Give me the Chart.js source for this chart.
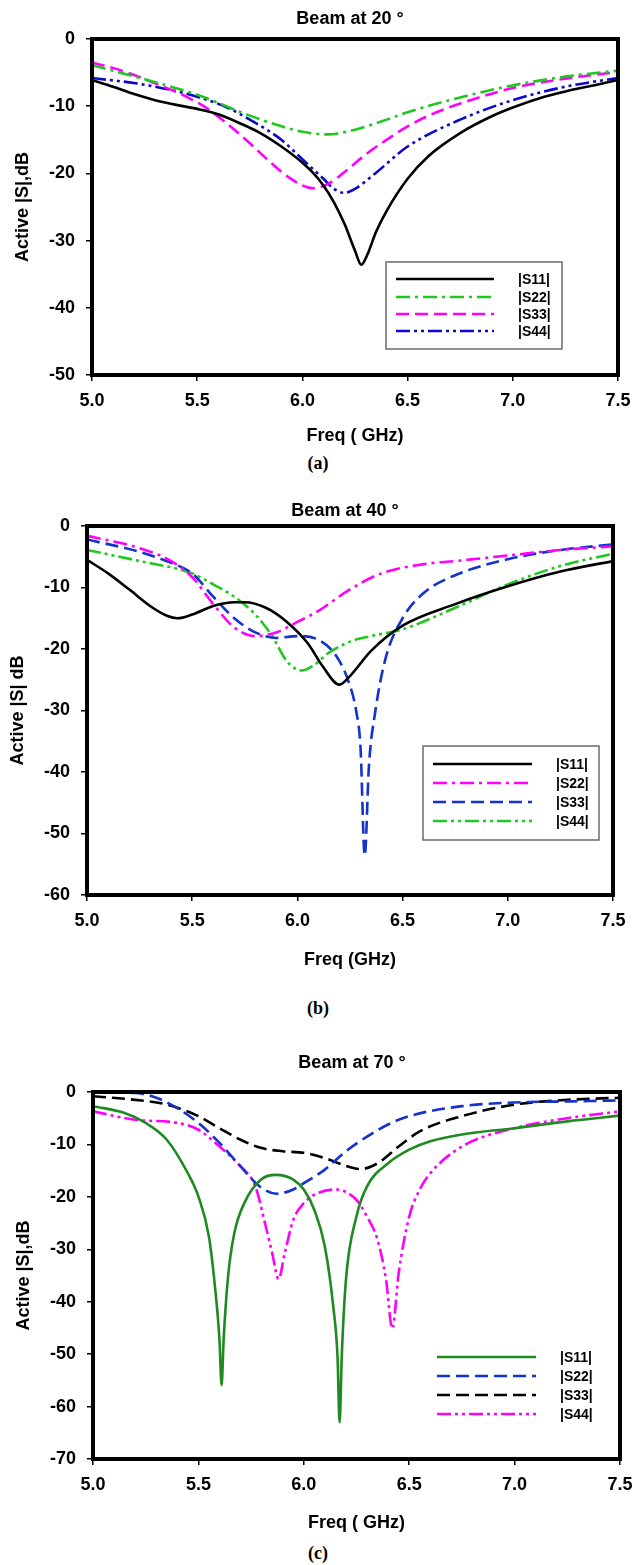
<!DOCTYPE html>
<html><head><meta charset="utf-8">
<script src="https://cdn.jsdelivr.net/npm/chart.js@4.4.1/dist/chart.umd.min.js"></script>
<style>
html,body{margin:0;padding:0;background:#fff;}
#page{position:relative;width:634px;height:1565px;background:#fff;overflow:hidden;}
.wrap{position:absolute;left:0;width:634px;}
.cap{position:absolute;left:0;width:636px;text-align:center;font-family:"Liberation Serif","Times New Roman",serif;font-weight:bold;font-size:18px;line-height:20px;color:#000;}
</style></head><body>
<div id="page">
  <div class="wrap" style="top:0px;height:450px"><canvas id="ca" width="634" height="450"></canvas></div>
  <div class="cap" style="top:453px">(a)</div>
  <div class="wrap" style="top:480px;height:500px"><canvas id="cb" width="634" height="500"></canvas></div>
  <div class="cap" style="top:998px">(b)</div>
  <div class="wrap" style="top:1030px;height:510px"><canvas id="cc" width="634" height="510"></canvas></div>
  <div class="cap" style="top:1543px">(c)</div>
</div>
<script>
// ---------- tick labels ----------
const xTickValues = [5.0, 5.5, 6.0, 6.5, 7.0, 7.5];
const xTickLabels = ['5.0', '5.5', '6.0', '6.5', '7.0', '7.5'];
const yTicksA = [0, -10, -20, -30, -40, -50];
const yTicksB = [0, -10, -20, -30, -40, -50, -60];
const yTicksC = [0, -10, -20, -30, -40, -50, -60, -70];

// ---------- Chart (a): Beam at 20° ----------
const a_S11_f = [5.0,5.1,5.2,5.3,5.4,5.5,5.6,5.7,5.8,5.9,6.0,6.05,6.1,6.15,6.2,6.25,6.28,6.31,6.35,6.4,6.5,6.6,6.75,6.9,7.0,7.15,7.25,7.4,7.5];
const a_S11_db = [-6.1,-7.1,-8.2,-9.1,-9.8,-10.4,-11.2,-12.5,-14.0,-16.0,-18.4,-19.9,-21.8,-24.3,-27.5,-31.5,-33.6,-32.0,-28.7,-25.6,-20.8,-17.4,-14.0,-11.5,-10.2,-8.6,-7.8,-6.8,-6.1];
const a_S22_f = [5.0,5.25,5.5,5.75,5.9,6.0,6.12,6.25,6.4,6.5,6.75,7.0,7.25,7.5];
const a_S22_db = [-3.9,-6.0,-8.3,-11.4,-13.0,-13.8,-14.2,-13.5,-12.0,-10.9,-8.7,-6.9,-5.6,-4.7];
const a_S33_f = [5.0,5.15,5.3,5.45,5.55,5.65,5.75,5.85,5.95,6.05,6.12,6.2,6.3,6.4,6.5,6.6,6.75,7.0,7.25,7.5];
const a_S33_db = [-3.5,-4.8,-6.6,-8.6,-10.4,-12.8,-15.5,-18.4,-20.9,-22.2,-21.6,-19.8,-17.2,-15.0,-13.0,-11.4,-9.6,-7.3,-5.9,-4.9];
const a_S44_f = [5.0,5.25,5.5,5.65,5.75,5.9,6.0,6.1,6.15,6.2,6.25,6.35,6.5,6.75,7.0,7.25,7.5];
const a_S44_db = [-5.8,-6.8,-8.6,-10.3,-12.0,-15.0,-17.9,-20.8,-22.3,-22.9,-22.3,-19.9,-16.0,-12.0,-9.1,-7.1,-5.8];

// ---------- Chart (b): Beam at 40° ----------
const b_S11_f = [5.0,5.1,5.2,5.3,5.38,5.43,5.5,5.6,5.7,5.75,5.85,5.95,6.05,6.12,6.2,6.25,6.35,6.5,6.75,7.0,7.25,7.5];
const b_S11_db = [-5.5,-7.7,-10.3,-13.0,-14.6,-15.0,-14.4,-13.0,-12.4,-12.4,-13.3,-15.6,-19.1,-22.8,-25.8,-24.4,-20.3,-16.2,-12.7,-9.8,-7.4,-5.7];
const b_S22_f = [5.0,5.25,5.4,5.5,5.6,5.7,5.8,5.9,6.0,6.1,6.25,6.4,6.6,6.75,7.0,7.25,7.5];
const b_S22_db = [-1.6,-3.6,-5.7,-8.3,-12.7,-16.5,-17.9,-17.3,-15.6,-13.8,-10.3,-7.7,-6.2,-5.7,-4.8,-3.9,-3.3];
const b_S33_f = [5.0,5.25,5.4,5.5,5.6,5.7,5.8,5.9,6.0,6.1,6.18,6.24,6.28,6.3,6.32,6.34,6.37,6.42,6.5,6.6,6.75,7.0,7.25,7.5];
const b_S33_db = [-2.2,-4.2,-6.0,-7.7,-11.5,-15.0,-17.3,-18.2,-17.9,-18.5,-20.9,-25.0,-30.2,-36.0,-53.6,-39.0,-30.2,-21.4,-15.0,-10.9,-8.0,-5.4,-3.9,-3.0];
const b_S44_f = [5.0,5.25,5.5,5.6,5.7,5.8,5.88,5.95,6.02,6.08,6.15,6.25,6.35,6.5,6.75,7.0,7.25,7.5];
const b_S44_db = [-3.9,-5.7,-7.7,-9.5,-11.5,-14.4,-17.9,-22.0,-23.5,-22.6,-20.6,-18.8,-17.9,-16.8,-13.3,-9.5,-6.5,-4.5];

// ---------- Chart (c): Beam at 70° ----------
const c_S11_f = [5.0,5.15,5.25,5.35,5.45,5.5,5.55,5.58,5.6,5.61,5.62,5.64,5.67,5.72,5.8,5.87,5.95,6.0,6.05,6.1,6.14,6.16,6.17,6.18,6.2,6.25,6.3,6.4,6.5,6.6,6.75,7.0,7.25,7.5];
const c_S11_db = [-2.7,-4.0,-5.9,-9.1,-15.5,-19.9,-27.6,-37.7,-47.3,-55.9,-47.0,-35.5,-27.0,-21.0,-16.6,-15.8,-16.7,-18.6,-22.5,-29.5,-41.0,-50.5,-63.0,-50.5,-35.8,-23.7,-18.0,-13.6,-11.0,-9.4,-8.1,-6.9,-5.6,-4.5];
const c_S22_f = [5.0,5.2,5.3,5.4,5.5,5.6,5.7,5.8,5.87,5.95,6.0,6.1,6.2,6.3,6.4,6.5,6.75,7.0,7.25,7.5];
const c_S22_db = [-0.1,-0.2,-1.1,-3.1,-5.9,-9.7,-14.2,-18.3,-19.4,-18.6,-17.4,-14.8,-11.3,-8.5,-6.2,-4.6,-2.7,-2.0,-1.8,-1.6];
const c_S33_f = [5.0,5.2,5.35,5.5,5.6,5.7,5.8,5.9,6.0,6.1,6.2,6.27,6.35,6.45,6.55,6.75,7.0,7.25,7.5];
const c_S33_db = [-0.8,-1.5,-2.4,-4.6,-6.9,-9.1,-10.7,-11.3,-11.6,-12.6,-14.1,-14.7,-13.6,-10.4,-7.5,-4.6,-2.4,-1.5,-1.1];
const c_S44_f = [5.0,5.2,5.4,5.5,5.6,5.7,5.77,5.82,5.85,5.88,5.91,5.95,6.0,6.05,6.15,6.25,6.3,6.35,6.39,6.42,6.45,6.5,6.55,6.6,6.75,7.0,7.25,7.5];
const c_S44_db = [-3.7,-5.3,-5.9,-7.2,-10.4,-14.2,-18.0,-25.7,-30.7,-35.7,-30.7,-24.4,-21.2,-19.6,-18.6,-20.6,-23.8,-28.2,-35.8,-45.1,-34.6,-23.8,-18.6,-15.5,-10.4,-6.9,-5.0,-3.7];

// ---------- styles ----------
const SANS = '"Liberation Sans", Arial, Helvetica, sans-serif';
const DASH = [13, 6];
const DASHDOT = [14, 5, 3, 5];
const DASHDOTDOT = [14, 4, 3, 4, 3, 4];
const GREEN = '#1ec81e', MAGENTA = '#ff00ff', BLUE = '#0a0ac8', BLACK = '#000000', DKGREEN = '#1f8a1f', BLUE2 = '#1432cc';

function toPts(f, v) { return f.map((x, i) => ({x: x, y: v[i]})); }

const decor = {
  id: 'decor',
  afterDatasetsDraw(chart, args, o) {
    const ctx = chart.ctx, ca = chart.chartArea;
    ctx.save();
    const L = o.legend;
    if (L.box) {
      ctx.fillStyle = '#fff';
      ctx.fillRect(L.box[0], L.box[1], L.box[2] - L.box[0], L.box[3] - L.box[1]);
      ctx.lineWidth = 1.3; ctx.strokeStyle = '#555';
      ctx.strokeRect(L.box[0], L.box[1], L.box[2] - L.box[0], L.box[3] - L.box[1]);
    }
    chart.data.datasets.forEach((ds, i) => {
      const y = L.rows[i];
      ctx.setLineDash(ds.borderDash || []);
      ctx.strokeStyle = ds.borderColor; ctx.lineWidth = ds.borderWidth;
      ctx.beginPath(); ctx.moveTo(L.x1, y); ctx.lineTo(L.x2, y); ctx.stroke();
      ctx.setLineDash([]);
      ctx.fillStyle = '#000'; ctx.font = 'bold 14px ' + SANS;
      ctx.textAlign = 'left'; ctx.textBaseline = 'middle';
      ctx.fillText(ds.label, L.tx, y + 1);
    });
    ctx.setLineDash([]);
    ctx.lineWidth = 4; ctx.strokeStyle = '#000';
    ctx.strokeRect(ca.left, ca.top, ca.right - ca.left, ca.bottom - ca.top);
    ctx.fillStyle = '#000'; ctx.font = 'bold 18px ' + SANS;
    ctx.textAlign = 'center'; ctx.textBaseline = 'middle';
    ctx.fillText(o.title, o.titleX, o.titleY);
    ctx.restore();
  }
};

function makeChart(id, cfg) {
  const tickFont = {family: SANS, size: 18, weight: 'bold'};
  return new Chart(document.getElementById(id), {
    type: 'line',
    data: {
      datasets: cfg.series.map(s => ({
        label: s.label, data: toPts(s.f, s.v), borderColor: s.color, backgroundColor: s.color,
        borderDash: s.dash, borderWidth: 2.6, pointRadius: 0, fill: false,
        cubicInterpolationMode: 'monotone'
      }))
    },
    options: {
      responsive: false, animation: false,
      layout: {padding: cfg.pad},
      plugins: {legend: {display: false}, tooltip: {enabled: false}, decor: cfg.decor},
      scales: {
        x: {
          type: 'linear', min: 5, max: 7.5,
          afterBuildTicks: s => { s.ticks = xTickValues.map(v => ({value: v})); },
          afterFit: s => { s.height = cfg.hx; s.paddingLeft = 0; s.paddingRight = 0; },
          ticks: {callback: (v) => xTickLabels[xTickValues.indexOf(v)], font: tickFont, color: '#000', padding: 9, maxRotation: 0, autoSkip: false},
          grid: {drawOnChartArea: false, drawTicks: true, tickLength: 6, color: '#000', lineWidth: 1.5},
          border: {display: false},
          title: {display: true, text: cfg.xTitle, font: tickFont, color: '#000', padding: 0}
        },
        y: {
          type: 'linear', min: cfg.yTicks[cfg.yTicks.length - 1], max: 0,
          afterBuildTicks: s => { s.ticks = cfg.yTicks.map(v => ({value: v})); },
          afterFit: s => { s.width = cfg.wy; s.paddingTop = 0; s.paddingBottom = 0; },
          ticks: {callback: v => String(v), font: tickFont, color: '#000', padding: 11, autoSkip: false},
          grid: {drawOnChartArea: false, drawTicks: true, tickLength: 6, color: '#000', lineWidth: 1.5},
          border: {display: false},
          title: {display: true, text: cfg.yTitle, font: tickFont, color: '#000', padding: {top: cfg.ytPad, bottom: 0}}
        }
      }
    },
    plugins: [decor]
  });
}

makeChart('ca', {
  series: [
    {label: '|S11|', f: a_S11_f, v: a_S11_db, color: BLACK, dash: []},
    {label: '|S22|', f: a_S22_f, v: a_S22_db, color: GREEN, dash: DASHDOT},
    {label: '|S33|', f: a_S33_f, v: a_S33_db, color: MAGENTA, dash: DASH},
    {label: '|S44|', f: a_S44_f, v: a_S44_db, color: BLUE, dash: DASHDOTDOT}
  ],
  yTicks: yTicksA, xTitle: 'Freq ( GHz)', yTitle: 'Active |S|,dB',
  pad: {left: 0, right: 16, top: 39, bottom: 3}, wy: 92, hx: 72, ytPad: 12,
  decor: {title: 'Beam at 20 °', titleX: 350, titleY: 19,
    legend: {box: [386, 262, 562, 349], rows: [279, 297, 314, 331], x1: 396, x2: 494, tx: 518}}
});

makeChart('cb', {
  series: [
    {label: '|S11|', f: b_S11_f, v: b_S11_db, color: BLACK, dash: []},
    {label: '|S22|', f: b_S22_f, v: b_S22_db, color: MAGENTA, dash: DASHDOT},
    {label: '|S33|', f: b_S33_f, v: b_S33_db, color: BLUE2, dash: DASH},
    {label: '|S44|', f: b_S44_f, v: b_S44_db, color: GREEN, dash: DASHDOTDOT}
  ],
  yTicks: yTicksB, xTitle: 'Freq (GHz)', yTitle: 'Active |S| dB',
  pad: {left: 0, right: 21, top: 46, bottom: 9}, wy: 87, hx: 76, ytPad: 7,
  decor: {title: 'Beam at 40 °', titleX: 345, titleY: 31,
    legend: {box: [423, 266, 599, 360], rows: [284, 303, 322, 341], x1: 433, x2: 532, tx: 556}}
});

makeChart('cc', {
  series: [
    {label: '|S11|', f: c_S11_f, v: c_S11_db, color: DKGREEN, dash: []},
    {label: '|S22|', f: c_S22_f, v: c_S22_db, color: BLUE2, dash: DASH},
    {label: '|S33|', f: c_S33_f, v: c_S33_db, color: BLACK, dash: DASH},
    {label: '|S44|', f: c_S44_f, v: c_S44_db, color: MAGENTA, dash: DASHDOTDOT}
  ],
  yTicks: yTicksC, xTitle: 'Freq ( GHz)', yTitle: 'Active |S|,dB',
  pad: {left: 0, right: 14, top: 62, bottom: 6}, wy: 93, hx: 75, ytPad: 13,
  decor: {title: 'Beam at 70 °', titleX: 352, titleY: 33,
    legend: {box: null, rows: [327, 346, 365, 384], x1: 437, x2: 536, tx: 560}}
});
</script>
</body></html>
